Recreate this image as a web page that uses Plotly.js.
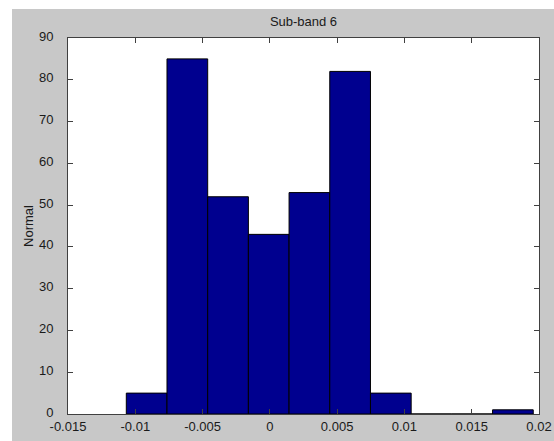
<!DOCTYPE html>
<html>
<head>
<meta charset="utf-8">
<script src="https://cdn.plot.ly/plotly-3.0.1.min.js"></script>
<style>
  html, body { margin: 0; padding: 0; background: #ffffff; width: 554px; height: 441px; overflow: hidden; }
  #chart { position: absolute; left: 12px; top: 9px; width: 542px; height: 432px; }
</style>
</head>
<body>
<div id="chart"></div>
<script>
// Histogram data
const binStart = -0.010668;
const binWidth = 0.003024;
const counts = [5, 85, 52, 43, 53, 82, 5, 0, 0, 1];

const xTickVals = [-0.015, -0.01, -0.005, 0, 0.005, 0.01, 0.015, 0.02];
const xTickText = ['-0.015', '-0.01', '-0.005', '0', '0.005', '0.01', '0.015', '0.02'];
const yTickVals = [0, 10, 20, 30, 40, 50, 60, 70, 80, 90];
const yTickText = ['0', '10', '20', '30', '40', '50', '60', '70', '80', '90'];

const centers = counts.map((_, i) => binStart + binWidth * (i + 0.5));

const trace = {
  type: 'bar',
  x: centers,
  y: counts,
  width: counts.map(() => binWidth),
  marker: { color: '#00008f', line: { color: '#000000', width: 1 } },
  hoverinfo: 'x+y'
};

const font = { family: 'Arial, "Liberation Sans", sans-serif', size: 13, color: '#1a1a1a' };

const layout = {
  width: 542,
  height: 432,
  margin: { l: 56, r: 15, t: 29, b: 27, pad: 0 },
  paper_bgcolor: '#c8c8c8',
  plot_bgcolor: '#ffffff',
  font: font,
  showlegend: false,
  bargap: 0,
  title: { text: 'Sub-band 6', font: font, x: 0.5, xanchor: 'center', xref: 'paper',
           y: 1 - 12 / 432, yref: 'container', yanchor: 'middle' },
  xaxis: {
    range: [-0.015, 0.02],
    tickmode: 'array', tickvals: xTickVals, ticktext: xTickText,
    ticks: 'inside', ticklen: 5, tickcolor: '#404040', tickwidth: 1,
    showline: true, linecolor: '#404040', linewidth: 1, mirror: 'ticks',
    showgrid: false, zeroline: false, fixedrange: true,
    tickfont: font, ticklabelstandoff: 0
  },
  yaxis: {
    range: [0, 90],
    tickmode: 'array', tickvals: yTickVals, ticktext: yTickText,
    ticks: 'inside', ticklen: 5, tickcolor: '#404040', tickwidth: 1,
    showline: true, linecolor: '#404040', linewidth: 1, mirror: 'ticks',
    showgrid: false, zeroline: false, fixedrange: true,
    tickfont: font, ticklabelstandoff: 11, ticklabelshift: -2,
    title: { text: 'Normal', font: font, standoff: 2 }
  }
};

Plotly.newPlot('chart', [trace], layout, { displayModeBar: false, staticPlot: true });
</script>
</body>
</html>
